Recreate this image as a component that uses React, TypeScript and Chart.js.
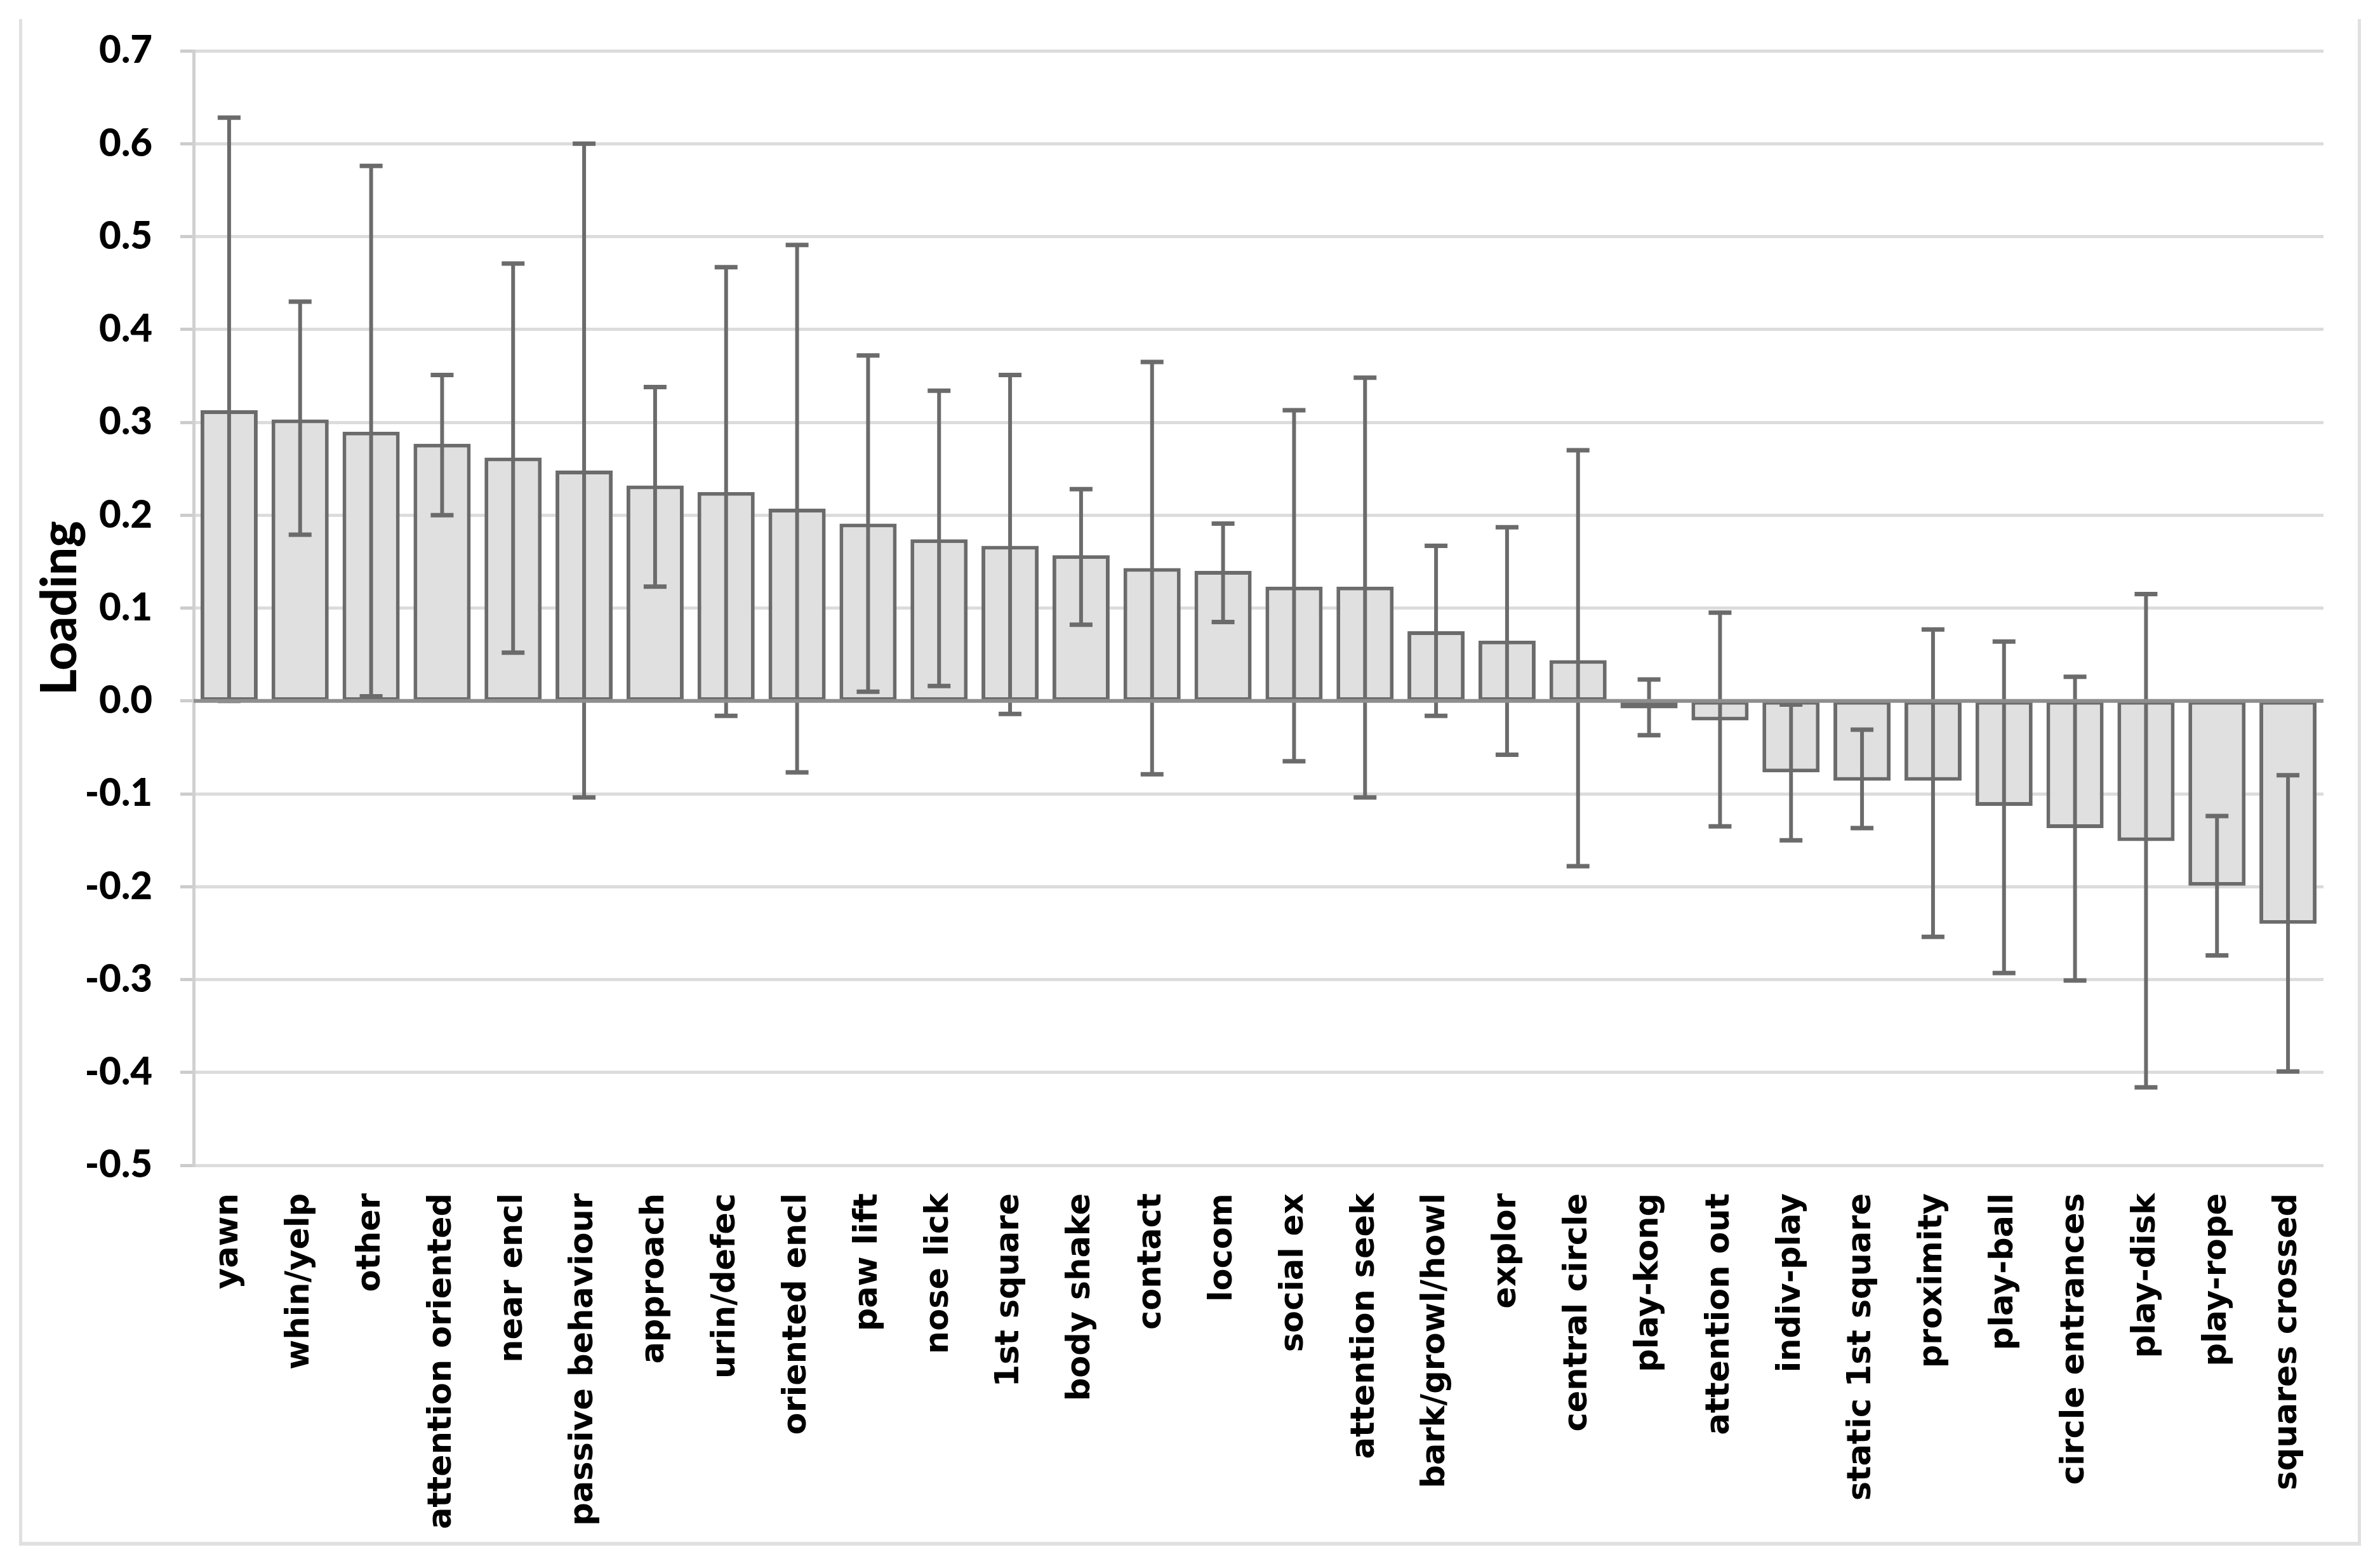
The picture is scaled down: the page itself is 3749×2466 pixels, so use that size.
import { useEffect, useRef } from "react";
import { Chart, registerables, Plugin } from "chart.js";

Chart.register(...registerables);

// Behaviour categories, sorted by loading (as in the figure)
const behaviours = [
  "yawn", "whin/yelp", "other", "attention oriented", "near encl",
  "passive behaviour", "approach", "urin/defec", "oriented encl", "paw lift",
  "nose lick", "1st square", "body shake", "contact", "locom",
  "social ex", "attention seek", "bark/growl/howl", "explor", "central circle",
  "play-kong", "attention out", "indiv-play", "static 1st square", "proximity",
  "play-ball", "circle entrances", "play-disk", "play-rope", "squares crossed",
];

const loadings = [
  0.313, 0.303, 0.290, 0.277, 0.262,
  0.248, 0.232, 0.225, 0.207, 0.191,
  0.174, 0.167, 0.157, 0.143, 0.140,
  0.123, 0.123, 0.075, 0.065, 0.044,
  -0.008, -0.021, -0.077, -0.086, -0.086,
  -0.113, -0.137, -0.151, -0.199, -0.240,
];

const errLow = [
  0.0, 0.179, 0.005, 0.200, 0.052,
  -0.104, 0.123, -0.016, -0.077, 0.010,
  0.016, -0.014, 0.082, -0.079, 0.085,
  -0.065, -0.104, -0.016, -0.058, -0.178,
  -0.037, -0.135, -0.150, -0.137, -0.254,
  -0.293, -0.301, -0.416, -0.274, -0.399,
];

const errHigh = [
  0.628, 0.430, 0.576, 0.351, 0.471,
  0.600, 0.338, 0.467, 0.491, 0.372,
  0.334, 0.351, 0.228, 0.365, 0.191,
  0.313, 0.348, 0.167, 0.187, 0.270,
  0.023, 0.095, -0.004, -0.031, 0.077,
  0.064, 0.026, 0.115, -0.124, -0.080,
];

const Y_MIN = -0.5;
const Y_MAX = 0.7;
const Y_STEP = 0.1;

const W = 3749;
const H = 2466;

// error bars + the horizontal axis at zero, drawn over the bars
const errorBarsPlugin: Plugin<"bar"> = {
  id: "errorBars",
  afterDatasetsDraw(chart) {
    const { ctx, chartArea } = chart;
    const x = chart.scales.x;
    const y = chart.scales.y;
    ctx.save();
    ctx.strokeStyle = "#6b6b6b";
    ctx.lineCap = "butt";
    errLow.forEach((lo, i) => {
      const cx = x.getPixelForValue(i);
      const yLo = y.getPixelForValue(lo);
      const yHi = y.getPixelForValue(errHigh[i]);
      ctx.lineWidth = 6;
      ctx.beginPath();
      ctx.moveTo(cx, yLo);
      ctx.lineTo(cx, yHi);
      ctx.stroke();
      ctx.lineWidth = 7;
      ctx.beginPath();
      ctx.moveTo(cx - 18, yLo);
      ctx.lineTo(cx + 18, yLo);
      ctx.moveTo(cx - 18, yHi);
      ctx.lineTo(cx + 18, yHi);
      ctx.stroke();
    });
    const y0 = y.getPixelForValue(0);
    ctx.strokeStyle = "#8e8e8e";
    ctx.lineWidth = 6;
    ctx.beginPath();
    ctx.moveTo(chartArea.left, y0);
    ctx.lineTo(chartArea.right, y0);
    ctx.stroke();
    ctx.restore();
  },
};

export default function App() {
  const canvasRef = useRef<HTMLCanvasElement>(null);
  const chartRef = useRef<Chart | null>(null);

  useEffect(() => {
    if (!canvasRef.current) return;
    if (chartRef.current) chartRef.current.destroy();

    chartRef.current = new Chart(canvasRef.current, {
      type: "bar",
      data: {
        labels: behaviours,
        datasets: [
          {
            data: loadings,
            backgroundColor: "#e0e0e0",
            borderColor: "#6b6b6b",
            borderWidth: 6,
            borderSkipped: false,
            barPercentage: 0.805,
            categoryPercentage: 1,
          },
        ],
      },
      options: {
        responsive: false,
        devicePixelRatio: 1,
        animation: false,
        layout: { padding: { left: 48, top: 67, right: 89, bottom: 0 } },
        plugins: {
          legend: { display: false },
          tooltip: { enabled: false },
        },
        scales: {
          x: {
            grid: { display: false, drawTicks: false },
            border: { display: false },
            ticks: {
              autoSkip: false,
              minRotation: 90,
              maxRotation: 90,
              padding: 44,
              color: "#000",
              font: { family: "'DejaVu Sans'", size: 51, weight: "bold" },
            },
            afterFit: (s) => {
              s.height = 631;
            },
          },
          y: {
            min: Y_MIN,
            max: Y_MAX,
            grid: { color: "#dcdcdc", lineWidth: 5, tickLength: 21, tickColor: "#cccccc" },
            border: { display: true, color: "#d0d0d0", width: 5 },
            ticks: {
              stepSize: Y_STEP,
              padding: 44,
              color: "#000",
              font: { family: "Lato", size: 60, weight: "900" },
              callback: (v) => {
                const n = Number(v);
                return Math.abs(n) < 1e-9 ? "0.0" : n.toFixed(1);
              },
            },
            title: {
              display: true,
              text: "Loading",
              color: "#000",
              padding: { top: 0, bottom: 0 },
              font: { family: "Lato", size: 78, weight: "900" },
            },
            afterFit: (s) => {
              s.width = 257;
            },
          },
        },
      },
      plugins: [errorBarsPlugin],
    });

    return () => chartRef.current?.destroy();
  }, []);

  return (
    <div style={{ position: "fixed", left: 0, top: 0, width: W, height: H, background: "#fff" }}>
      {/* light frame round the chart (left, right, bottom) */}
      <div
        style={{
          position: "absolute",
          left: 30,
          top: 30,
          width: 3719 - 30 - 10,
          height: 2433 - 30 - 5,
          borderLeft: "5px solid #e0e0e0",
          borderRight: "5px solid #e0e0e0",
          borderBottom: "6px solid #e0e0e0",
        }}
      />
      <canvas ref={canvasRef} width={W} height={H} style={{ position: "absolute", left: 0, top: 0 }} />
    </div>
  );
}
